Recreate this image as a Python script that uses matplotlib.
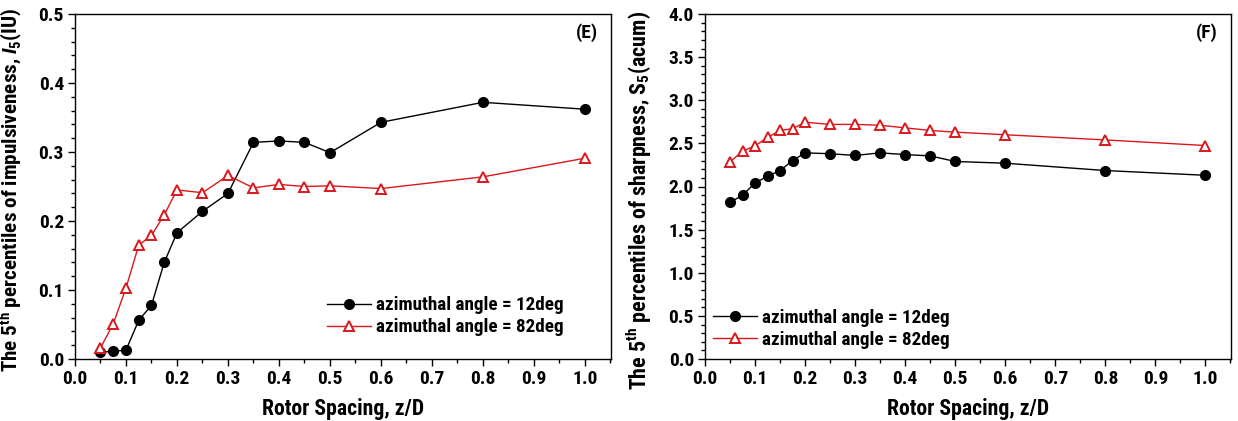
import matplotlib
matplotlib.use("Agg")
import matplotlib.pyplot as plt
from matplotlib.ticker import MultipleLocator, FormatStrFormatter

spacing = [0.05, 0.075, 0.1, 0.125, 0.15, 0.175, 0.2, 0.25, 0.3, 0.35, 0.4, 0.45, 0.5, 0.6, 0.8, 1.0]

imp_12 = [0.010, 0.011, 0.013, 0.056, 0.078, 0.140, 0.183, 0.214, 0.240, 0.314, 0.316, 0.314, 0.299, 0.343, 0.372, 0.362]
imp_82 = [0.016, 0.051, 0.103, 0.165, 0.179, 0.209, 0.245, 0.241, 0.266, 0.248, 0.253, 0.250, 0.251, 0.247, 0.264, 0.291]

sharp_12 = [1.815, 1.90, 2.04, 2.12, 2.185, 2.30, 2.39, 2.38, 2.36, 2.39, 2.37, 2.355, 2.29, 2.27, 2.185, 2.13]
sharp_82 = [2.285, 2.41, 2.47, 2.57, 2.65, 2.67, 2.745, 2.72, 2.72, 2.71, 2.68, 2.65, 2.63, 2.60, 2.54, 2.475]

label_12 = "azimuthal angle = 12deg"
label_82 = "azimuthal angle = 82deg"

FONT = 'Roboto Condensed'
plt.rcParams['font.family'] = [FONT, 'Liberation Sans', 'DejaVu Sans']
plt.rcParams['font.weight'] = 'bold'
plt.rcParams['mathtext.fontset'] = 'custom'
plt.rcParams['mathtext.rm'] = FONT + ':bold'
plt.rcParams['mathtext.bf'] = FONT + ':bold'
plt.rcParams['mathtext.it'] = FONT + ':italic:bold'

W, H = 1238, 421
fig = plt.figure(figsize=(W/100, H/100), dpi=100)
axE = fig.add_axes([75/W, 1-359/H, (611-75)/W, (359-14)/H])
axF = fig.add_axes([705/W, 1-359/H, (1231-705)/W, (359-14)/H])

def style(ax, ys, ymax, ymajor, yminor, ylabel, ylsize, ylcoords, tag, anchor):
    ax.plot(spacing, ys[0], color='black', marker='o', markersize=7, lw=1.0,
            markerfacecolor='black', label=label_12)
    ax.plot(spacing, ys[1], color='#d9181c', marker='^', markersize=7.5, lw=1.0,
            markerfacecolor='white', markeredgewidth=1.4, label=label_82)
    ax.set_xlim(0, 1.051)
    ax.set_ylim(0, ymax)
    ax.xaxis.set_major_locator(MultipleLocator(0.1))
    ax.xaxis.set_minor_locator(MultipleLocator(0.05))
    ax.yaxis.set_major_locator(MultipleLocator(ymajor))
    ax.yaxis.set_minor_locator(MultipleLocator(yminor))
    ax.xaxis.set_major_formatter(FormatStrFormatter('%.1f'))
    ax.yaxis.set_major_formatter(FormatStrFormatter('%.1f'))
    ax.tick_params(which='major', direction='out', length=5, width=1, labelsize=14, pad=3)
    ax.tick_params(which='minor', direction='out', length=3, width=1)
    for lab in ax.get_xticklabels() + ax.get_yticklabels():
        lab.set_fontweight('bold')
    for s in ax.spines.values():
        s.set_linewidth(1.0)
    ax.set_xlabel("Rotor Spacing, z/D", fontsize=15.7, fontweight='bold')
    ax.xaxis.set_label_coords(0.5, -0.113)
    ax.set_ylabel(ylabel, fontsize=ylsize, fontweight='bold')
    ax.yaxis.set_label_coords(*ylcoords)
    ax.text(0.975, 0.945, tag, transform=ax.transAxes, ha='right', va='center',
            fontsize=14, fontweight='bold')
    ax.legend(loc='lower left', bbox_to_anchor=anchor, frameon=False,
              handlelength=2.3, handletextpad=0.25, labelspacing=0.2,
              prop={'family': FONT, 'weight': 'bold', 'size': 13.8})

style(axE, (imp_12, imp_82), 0.5, 0.1, 0.02,
      "The 5$^{\\mathrm{th}}$ percentiles of impulsiveness, $I_5$(IU)", 15.2,
      (-0.093, 0.49), "(E)", (0.438, 0.016))
style(axF, (sharp_12, sharp_82), 4.0, 0.5, 0.1,
      "The 5$^{\\mathrm{th}}$ percentiles of sharpness, S$_5$(acum)", 15.8,
      (-0.097, 0.46), "(F)", (-0.018, -0.021))

fig.savefig("out.png", dpi=100)
